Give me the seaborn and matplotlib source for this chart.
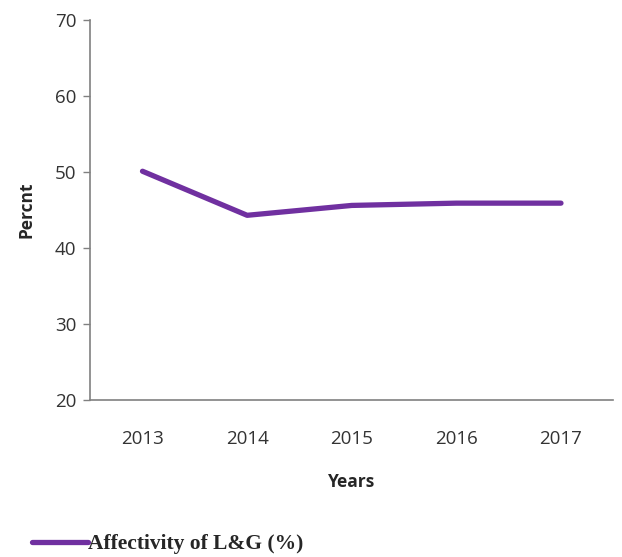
# Importing required libraries ====

import matplotlib.pyplot as plt
import pandas as pd
import seaborn as sns


# Data ====

years = ["2013", "2014", "2015", "2016", "2017"]
values = [50.1, 44.3, 45.6, 45.9, 45.9]
series_name = "Affectivity of L&G (%)"

df = pd.DataFrame({"Years": years, "Percnt": values, "series": series_name})


# Line Chart ====

sns.set_style("white")
plt.rcParams["font.family"] = ["Open Sans", "DejaVu Sans"]

fig = plt.figure(figsize = (6.22, 5.57), dpi = 100)
ax = fig.add_axes([0.145, 0.282, 0.841, 0.682])

sns.lineplot(data = df, x = "Years", y = "Percnt", hue = "series",
             palette = ["#7030A0"], linewidth = 3.8, sort = False,
             solid_capstyle = "round", ax = ax, legend = False)

ax.set_ylim(20, 70)
ax.set_yticks([20, 30, 40, 50, 60, 70])
ax.set_xlim(-0.5, 4.5)
ax.tick_params(axis = "y", length = 5, width = 1, color = "#808080",
               labelsize = 13.5, pad = 5, labelcolor = "#333333", left = True)
ax.tick_params(axis = "x", length = 0, labelsize = 13.5, pad = 22,
               labelcolor = "#333333")
sns.despine(ax = ax)
for side in ["left", "bottom"]:
    ax.spines[side].set_color("#808080")
    ax.spines[side].set_linewidth(1.2)

ax.set_xlabel("Years", fontsize = 12.5, fontweight = "bold", labelpad = 18)
ax.set_ylabel("Percnt", fontsize = 12.5, fontweight = "bold", labelpad = 14)

# legend below the chart
handle = plt.Line2D([], [], color = "#7030A0", linewidth = 3.8,
                    solid_capstyle = "round")
fig.legend([handle], [series_name], loc = "lower left",
           bbox_to_anchor = (0.02, -0.03), frameon = False, handlelength = 2.6,
           handletextpad = 0.0, prop = {"family": "Liberation Serif",
                                        "weight": "bold", "size": 15.5})

fig.savefig("out.png", dpi = 100)
